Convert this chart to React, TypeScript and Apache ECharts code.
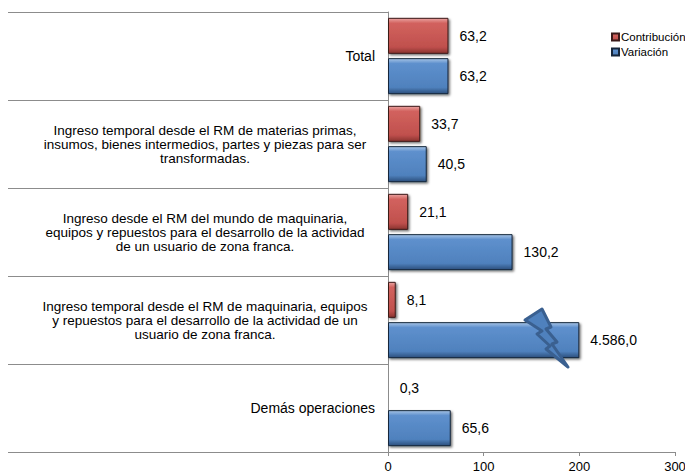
import React, { useEffect, useRef } from "react";
import * as echarts from "echarts";

const categories = [
  "Total",
  "Ingreso temporal desde el RM de materias primas,\ninsumos, bienes intermedios, partes y piezas para ser\ntransformadas.",
  "Ingreso desde el RM del mundo de maquinaria,\nequipos y repuestos para el desarrollo de la actividad\nde un usuario de zona franca.",
  "Ingreso temporal desde el RM de maquinaria, equipos\ny repuestos para el desarrollo de la actividad de un\nusuario de zona franca.",
  "Demás operaciones",
];
const contribucion = [63.2, 33.7, 21.1, 8.1, 0.3];
const variacion = [63.2, 40.5, 130.2, 4586.0, 65.6];
const xTicks = [0, 100, 200, 300];
const AXIS_CAP = 200; // bars beyond this are drawn broken at the cap

function fmt(v: number): string {
  const s = v.toFixed(1);
  const [i, d] = s.split(".");
  const ig = i.replace(/\B(?=(\d{3})+(?!\d))/g, ".");
  return ig + "," + d;
}

const redGrad = new echarts.graphic.LinearGradient(0, 0, 0, 1, [
  { offset: 0, color: "#eaa3a1" },
  { offset: 0.14, color: "#d2625e" },
  { offset: 0.82, color: "#c0504d" },
  { offset: 1, color: "#8a3330" },
]);
const blueGrad = new echarts.graphic.LinearGradient(0, 0, 0, 1, [
  { offset: 0, color: "#a7c4e6" },
  { offset: 0.14, color: "#5e90cd" },
  { offset: 0.82, color: "#4f81bd" },
  { offset: 1, color: "#2c4f7c" },
]);

export default function App() {
  const ref = useRef<HTMLDivElement>(null);
  useEffect(() => {
    if (!ref.current) return;
    const chart = echarts.init(ref.current, null, { renderer: "svg" });
    const labelStyle = {
      show: true,
      position: "right" as const,
      distance: 11,
      fontSize: 14,
      color: "#000",
      fontFamily: "Liberation Sans, Arial, sans-serif",
    };
    chart.setOption({
      animation: false,
      backgroundColor: "#fff",
      textStyle: { fontFamily: "Liberation Sans, Arial, sans-serif" },
      grid: { left: 388, right: 18, top: 12, bottom: 23, containLabel: false },
      legend: {
        orient: "vertical",
        left: 611,
        top: 31,
        padding: 0,
        itemWidth: 7,
        itemHeight: 7,
        itemGap: 3,
        icon: "rect",
        data: ["Contribución", "Variación"],
        textStyle: { fontSize: 11.5, color: "#000", padding: [0, 0, 0, -3], overflow: "none" },
      },
      xAxis: {
        type: "value",
        min: 0,
        max: 300,
        interval: 100,
        axisLine: { show: true, lineStyle: { color: "#8c8c8c", width: 1 } },
        axisTick: { show: true, length: 4, lineStyle: { color: "#8c8c8c" } },
        splitLine: { show: false },
        axisLabel: {
          fontSize: 13,
          color: "#000",
          margin: 8,
          formatter: (v: number) => (xTicks.includes(v) ? String(v) : ""),
        },
      },
      yAxis: {
        type: "category",
        inverse: true,
        data: categories,
        axisLine: { show: true, lineStyle: { color: "#8c8c8c", width: 1 } },
        axisTick: { show: true, length: 380, lineStyle: { color: "#8c8c8c", width: 1 } },
        axisLabel: {
          margin: 13,
          align: "right",
          formatter: (v: string) =>
            v.includes("\n")
              ? v.split("\n").map((l) => "{c|" + l + "}").join("\n")
              : "{r|" + v + "}",
          rich: {
            c: { width: 340, align: "center", fontSize: 13.5, lineHeight: 14, color: "#000" },
            r: { align: "right", fontSize: 14, color: "#000" },
          },
        },
      },
      series: [
        {
          name: "Contribución",
          type: "bar",
          barWidth: 36,
          barGap: "12%",
          data: contribucion.map((v) => Math.min(v, AXIS_CAP)),
          itemStyle: {
            color: redGrad,
            borderColor: "#3b1a19",
            borderWidth: 1,
            shadowColor: "rgba(0,0,0,0.55)",
            shadowBlur: 2,
            shadowOffsetX: 1.5,
            shadowOffsetY: 1.5,
          },
          label: { ...labelStyle, formatter: (p: any) => fmt(contribucion[p.dataIndex]) },
        },
        {
          name: "Variación",
          type: "bar",
          barWidth: 36,
          barGap: "12%",
          data: variacion.map((v) => Math.min(v, AXIS_CAP)),
          itemStyle: {
            color: blueGrad,
            borderColor: "#16263b",
            borderWidth: 1,
            shadowColor: "rgba(0,0,0,0.55)",
            shadowBlur: 2,
            shadowOffsetX: 1.5,
            shadowOffsetY: 1.5,
          },
          label: { ...labelStyle, formatter: (p: any) => fmt(variacion[p.dataIndex]) },
        },
      ],
      graphic: [
        {
          type: "text",
          x: 0,
          y: 0,
          z: 50,
          style: {
            text: "2014/2013",
            fontSize: 18,
            fontWeight: "bold",
            fontFamily: "Liberation Sans, Arial, sans-serif",
            lineHeight: 1,
            verticalAlign: "top",
            fill: "#000",
          },
        },
        {
          type: "polygon",
          z: 100,
          shape: {
            points: [
              [525, 320],
              [542, 309],
              [551, 327],
              [546, 329],
              [557, 342],
              [552, 344],
              [568, 367],
              [546, 349],
              [550, 346],
              [537, 334],
              [542, 331],
            ],
          },
          style: { fill: "#4f81bd", stroke: "#3a6090", lineWidth: 3, lineJoin: "round" },
        },
      ],
    });
    return () => chart.dispose();
  }, []);
  return <div ref={ref} style={{ width: 693, height: 475, marginLeft: -8, marginTop: -8 }} />;
}
